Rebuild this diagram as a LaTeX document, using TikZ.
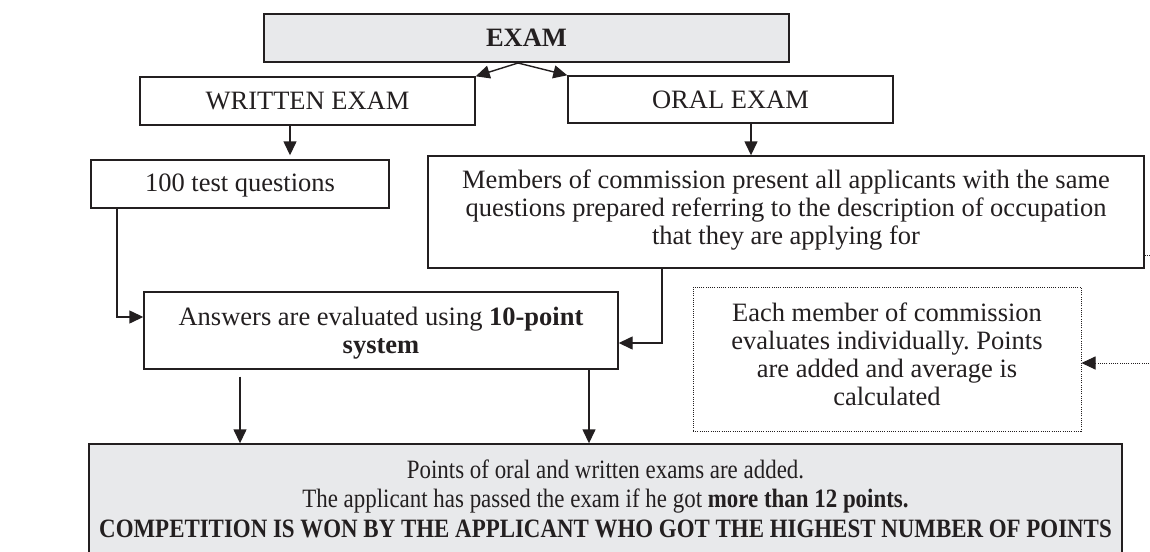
\documentclass[tikz,border=0pt]{standalone}
\usepackage{fontspec}
\usepackage{graphicx}
\setmainfont{Liberation Serif}
\usetikzlibrary{arrows.meta,calc}
\definecolor{boxgray}{HTML}{E8E9EB}
\definecolor{ink}{HTML}{231F20}
\newcommand{\narrowline}[1]{\scalebox{0.865}[1]{#1}}
\frenchspacing
\begin{document}
\begin{tikzpicture}[x=1pt,y=-1pt,
  box/.style={draw=ink, line width=1.4pt, inner sep=0pt, align=center, text=ink,
              font=\fontsize{26.5}{28}\selectfont},
  graybox/.style={box, fill=boxgray},
  dotbox/.style={draw=ink, line width=1pt, dash pattern=on 1pt off 1.2pt, inner sep=0pt},
  txt/.style={align=center, text=ink, inner sep=0pt, font=\fontsize{26.5}{28}\selectfont},
  arr/.style={draw=ink, line width=1.4pt, -{Triangle[length=14pt,width=13pt]}},
  dotarr/.style={draw=ink, line width=1pt, dash pattern=on 1pt off 1.2pt,
                 -{Triangle[length=14pt,width=13pt]}}
]
\useasboundingbox (0,0) rectangle (1150,551);
\fill[white] (0,0) rectangle (1150,551);
\clip (0,0) rectangle (1150,551);

\node[graybox, minimum width=525pt, minimum height=48pt] (exam) at (526.5,38) {\textbf{EXAM}};
\node[box, minimum width=335pt, minimum height=48pt] (written) at (307.5,101) {WRITTEN EXAM};
\node[box, minimum width=325pt, minimum height=47pt] (oral) at (730.5,99.5) {ORAL EXAM};
\node[box, minimum width=298pt, minimum height=48pt] (test) at (240,184) {};
\node[txt] (testtxt) at ([yshift=-2pt]test.center) {100 test questions};
\node[box, minimum width=716pt, minimum height=112pt] (members) at (786,212) {};
\node[txt] (memberstxt) at ([yshift=2pt]members.center) {Members of commission present all applicants with the same\\questions prepared referring to the description of occupation\\that they are applying for};
\node[box, minimum width=474pt, minimum height=77pt] (answers) at (381,330.5) {};
\node[txt] (answerstxt) at ([yshift=-3pt]answers.center) {Answers are evaluated using \textbf{10-point}\\\textbf{system}};
\node[dotbox, minimum width=388pt, minimum height=144pt] (each) at (887,359) {};
\node[txt] (eachtxt) at ([yshift=5pt]each.center) {Each member of commission\\evaluates individually. Points\\are added and average is\\calculated};
\node[graybox, minimum width=1033pt, minimum height=109pt] (final) at (605.5,498.5) {};
\node[txt, font=\fontsize{26.5}{29.5}\selectfont] (finaltxt) at (final.center) {\narrowline{Points of oral and written exams are added.}\\
\narrowline{The applicant has passed the exam if he got \textbf{more than 12 points.}}\\
\narrowline{\textbf{COMPETITION IS WON BY THE APPLICANT WHO GOT THE HIGHEST NUMBER OF POINTS}}};

\coordinate (ex) at (518,63);
\draw[arr] (ex) -- (written.north east);
\draw[arr] (ex) -- (oral.north west);
\draw[arr] (written.south -| 290,0) -- ([yshift=4pt]test.north -| 290,0);
\draw[arr] (test.south -| 117,0) -- (117,317) -- (answers.west |- 0,317);
\draw[arr] (oral.south -| 751,0) -- (members.north -| 751,0);
\draw[arr] (members.south -| 662,0) -- (662,343) -- (answers.east |- 0,343);
\draw[arr] ([yshift=-7pt]answers.south -| 240,0) -- (final.north -| 240,0);
\draw[arr] (answers.south -| 589,0) -- (final.north -| 589,0);
\draw[dotarr] (members.east |- 0,255) -- (1160,255) -- (1160,363) -- (each.east |- 0,363);
\end{tikzpicture}
\end{document}
